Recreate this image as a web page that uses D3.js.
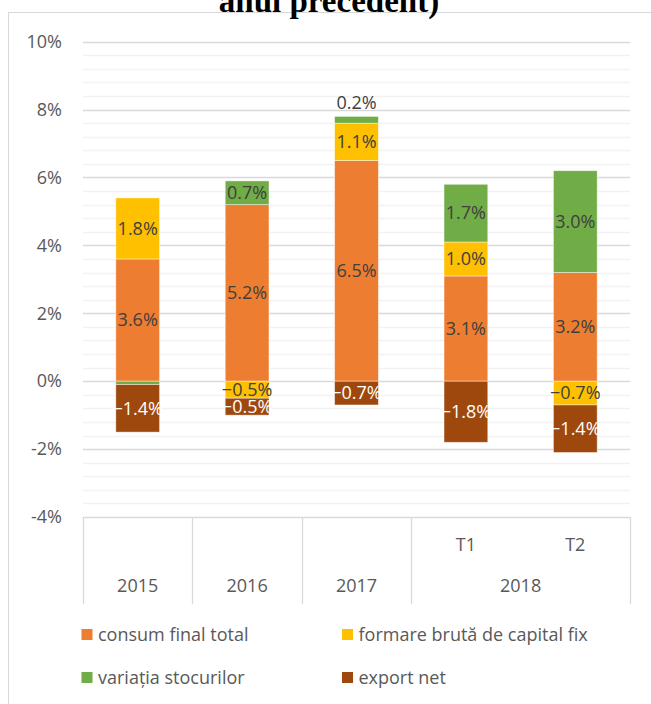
<!DOCTYPE html>
<html><head><meta charset="utf-8">
<script src="https://cdn.jsdelivr.net/npm/d3@7"></script>
<style>body{margin:0;background:#fff}svg{display:block}</style>
</head><body>
<svg id="c" width="651" height="704"></svg>
<script>
// ---- data ----
const keys = ["2015", "2016", "2017", "2018 T1", "2018 T2"];
const yearLabels = ["2015", "2016", "2017", "2018"];
const yearMembers = [[0], [1], [2], [3, 4]];
const quarterLabels = ["", "", "", "T1", "T2"];
const seriesNames = ["consum final total", "formare brută de capital fix", "variația stocurilor", "export net"];
const consum = [3.6, 5.2, 6.5, 3.1, 3.2];
const formare = [1.8, -0.5, 1.1, 1.0, -0.7];
const variatia = [-0.1, 0.7, 0.2, 1.7, 3.0];
const exportNet = [-1.4, -0.5, -0.7, -1.8, -1.4];
const yTicks = [-4, -2, 0, 2, 4, 6, 8, 10];
const titleLine = "anul precedent)";

const colors = ["#ED7D31", "#FFC000", "#70AD47", "#9E480E"];
const labelColors = ["#404040", "#404040", "#404040", "#ffffff"];
const FONT = "'Open Sans', 'Noto Sans', sans-serif";

const svg = d3.select("#c");
const rows = keys.map((k, i) => ({key: k, s0: consum[i], s1: formare[i], s2: variatia[i], s3: exportNet[i]}));
const stack = d3.stack().keys(["s0", "s1", "s2", "s3"]).offset(d3.stackOffsetDiverging);
const stacked = stack(rows);

const pLeft = 83, pRight = 630, pTop = 41.7, pBottom = 517;
const x = d3.scaleBand().domain(keys).range([pLeft, pRight]).paddingInner(0.6).paddingOuter(0.3);
const y = d3.scaleLinear().domain([-4, 10]).range([pBottom, pTop]);

// chart area border (cropped)
svg.append("rect").attr("x", 8.5).attr("y", 12.5).attr("width", 700).attr("height", 760)
  .attr("fill", "none").attr("stroke", "#d9d9d9").attr("stroke-width", 1);

// title (partially visible)
svg.append("text").attr("x", 329).attr("y", 11.5).attr("text-anchor", "middle")
  .attr("font-family", "'Liberation Serif', 'Times New Roman', serif").attr("font-weight", "bold")
  .attr("font-size", 33).attr("fill", "#000").text(titleLine);

// minor gridlines
const minor = d3.range(0, 36).filter(i => i % 5 !== 0).map(i => -4 + i * 0.4);
svg.append("g").selectAll("line").data(minor).join("line")
  .attr("x1", pLeft).attr("x2", pRight)
  .attr("y1", d => Math.round(y(d)) + 0.5).attr("y2", d => Math.round(y(d)) + 0.5)
  .attr("stroke", "#f2f2f2").attr("stroke-width", 1.3);
// major gridlines
svg.append("g").selectAll("line").data(yTicks).join("line")
  .attr("x1", pLeft).attr("x2", pRight)
  .attr("y1", d => Math.round(y(d)) + 0.5).attr("y2", d => Math.round(y(d)) + 0.5)
  .attr("stroke", "#d9d9d9").attr("stroke-width", 1.3);

// y axis labels
const yAxis = d3.axisLeft(y).tickValues(yTicks).tickFormat(d => d + "%").tickSize(0).tickPadding(0);
const yg = svg.append("g").attr("transform", `translate(62,0)`).call(yAxis);
yg.select(".domain").remove();
yg.selectAll("text").attr("font-family", FONT).attr("font-size", 18).attr("fill", "#595959");

// bars
const layer = svg.append("g").selectAll("g").data(stacked).join("g").attr("fill", (d, i) => colors[i]);
layer.selectAll("rect").data(d => d).join("rect")
  .attr("x", d => x(d.data.key))
  .attr("width", x.bandwidth())
  .attr("y", d => y(Math.max(d[0], d[1])))
  .attr("height", d => Math.abs(y(d[0]) - y(d[1])))
  .attr("stroke", "rgba(255,255,255,0.55)").attr("stroke-width", 0.8);

// data labels
const seriesVals = [consum, formare, variatia, exportNet];
const lab = svg.append("g").attr("font-family", FONT).attr("font-size", 18).attr("text-anchor", "middle");
stacked.forEach((ser, si) => {
  ser.forEach((d, i) => {
    const val = seriesVals[si][i];
    if (Math.abs(val) < 0.15) return;
    let cy = y((d[0] + d[1]) / 2);
    let col = labelColors[si];
    if (Math.abs(val) < 0.3) {
      const topVal = d3.max(stacked, s => s[i][1]);
      cy = y(topVal) - 14;
      col = "#404040";
    }
    lab.append("text").attr("x", x(d.data.key) + x.bandwidth() / 2).attr("y", cy)
      .attr("dy", "0.35em").attr("fill", col).text(d3.format(".1f")(val) + "%");
  });
});

// category axis box
const axisBottom = 604;
const step = x.step();
const edgeOf = i => x(keys[i]) - (step - x.bandwidth()) / 2;
const bounds = yearMembers.map(m => edgeOf(m[0])).concat([pRight]);
const ax = svg.append("g").attr("stroke", "#d9d9d9").attr("stroke-width", 1.3);
bounds.forEach(b => ax.append("line").attr("x1", Math.round(b) + 0.5).attr("x2", Math.round(b) + 0.5)
  .attr("y1", pBottom).attr("y2", axisBottom));

const axText = svg.append("g").attr("font-family", FONT).attr("font-size", 18).attr("fill", "#595959").attr("text-anchor", "middle");
keys.forEach((k, i) => {
  if (quarterLabels[i]) axText.append("text").attr("x", x(k) + x.bandwidth() / 2).attr("y", 545).attr("dy", "0.35em").text(quarterLabels[i]);
});
yearMembers.forEach((m, j) => {
  const cx = d3.mean(m, i => x(keys[i]) + x.bandwidth() / 2);
  axText.append("text").attr("x", cx).attr("y", 586).attr("dy", "0.35em").text(yearLabels[j]);
});

// legend
const legPos = [[81.5, 629], [342, 629], [81.5, 672], [342, 672]];
const leg = svg.append("g").attr("font-family", FONT).attr("font-size", 18).attr("fill", "#595959");
seriesNames.forEach((n, i) => {
  const [lx, ly] = legPos[i];
  leg.append("rect").attr("x", lx).attr("y", ly).attr("width", 11).attr("height", 11).attr("fill", colors[i]);
  leg.append("text").attr("x", lx + 16.5).attr("y", ly + 5.5).attr("dy", "0.35em").text(n);
});
</script>
</body></html>
